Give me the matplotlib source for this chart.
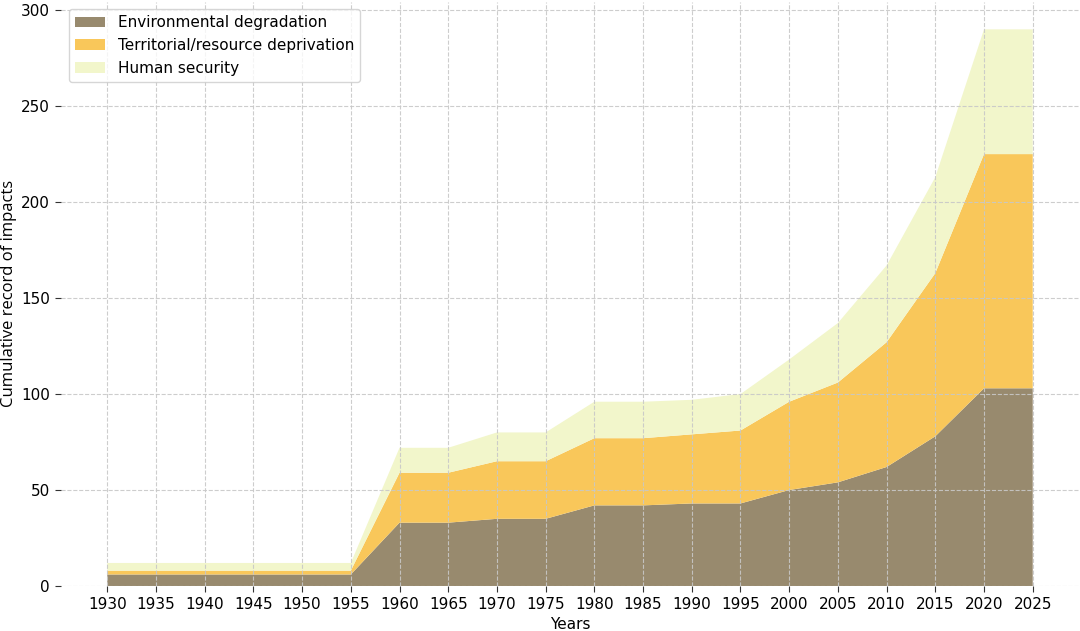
import matplotlib
matplotlib.use("Agg")
import matplotlib.pyplot as plt
import numpy as np

years = [1930, 1935, 1940, 1945, 1950, 1955, 1960, 1965, 1970, 1975,
         1980, 1985, 1990, 1995, 2000, 2005, 2010, 2015, 2020, 2025]
# cumulative totals (stack tops)
env_top = [6, 6, 6, 6, 6, 6, 33, 33, 35, 35, 42, 42, 43, 43, 50, 54, 62, 78, 103, 103]
terr_top = [8, 8, 8, 8, 8, 8, 59, 59, 65, 65, 77, 77, 79, 81, 96, 106, 127, 163, 225, 225]
human_top = [12, 12, 12, 12, 12, 12, 72, 72, 80, 80, 96, 96, 97, 100, 118, 137, 167, 213, 290, 290]

labels = ["Environmental degradation", "Territorial/resource deprivation", "Human security"]
colors = ["#988A6E", "#F9C75A", "#F2F6CB"]

env = np.array(env_top)
terr = np.array(terr_top) - env
human = np.array(human_top) - np.array(terr_top)

fig = plt.figure(figsize=(10.8, 6.31), dpi=100)
W, H = 1080, 631
ax = fig.add_axes([61 / W, (H - 586) / H, (1079 - 61) / W, (586 - 1.5) / H])

ax.stackplot(years, env, terr, human, labels=labels, colors=colors, linewidth=0)

ax.set_xticks(years)
ax.set_yticks([0, 50, 100, 150, 200, 250, 300])
ax.tick_params(labelsize=11, length=4, width=0.8, color="#333333", pad=4)
ax.grid(True, linestyle="--", color="#c8c8c8", linewidth=0.8, alpha=0.9)
ax.set_axisbelow(False)
for s in ax.spines.values():
    s.set_visible(False)

ax.set_xlabel("Years", fontsize=11, labelpad=3.5)
ax.set_ylabel("Cumulative record of impacts", fontsize=12, family=["Open Sans", "DejaVu Sans"], labelpad=3)

leg = ax.legend(loc="upper left", fontsize=11, frameon=True, fancybox=True,
                borderaxespad=0.5, handlelength=2.0)
leg.get_frame().set_edgecolor("#cccccc")
leg.set_zorder(5)

fig.savefig("out.png", dpi=100)
